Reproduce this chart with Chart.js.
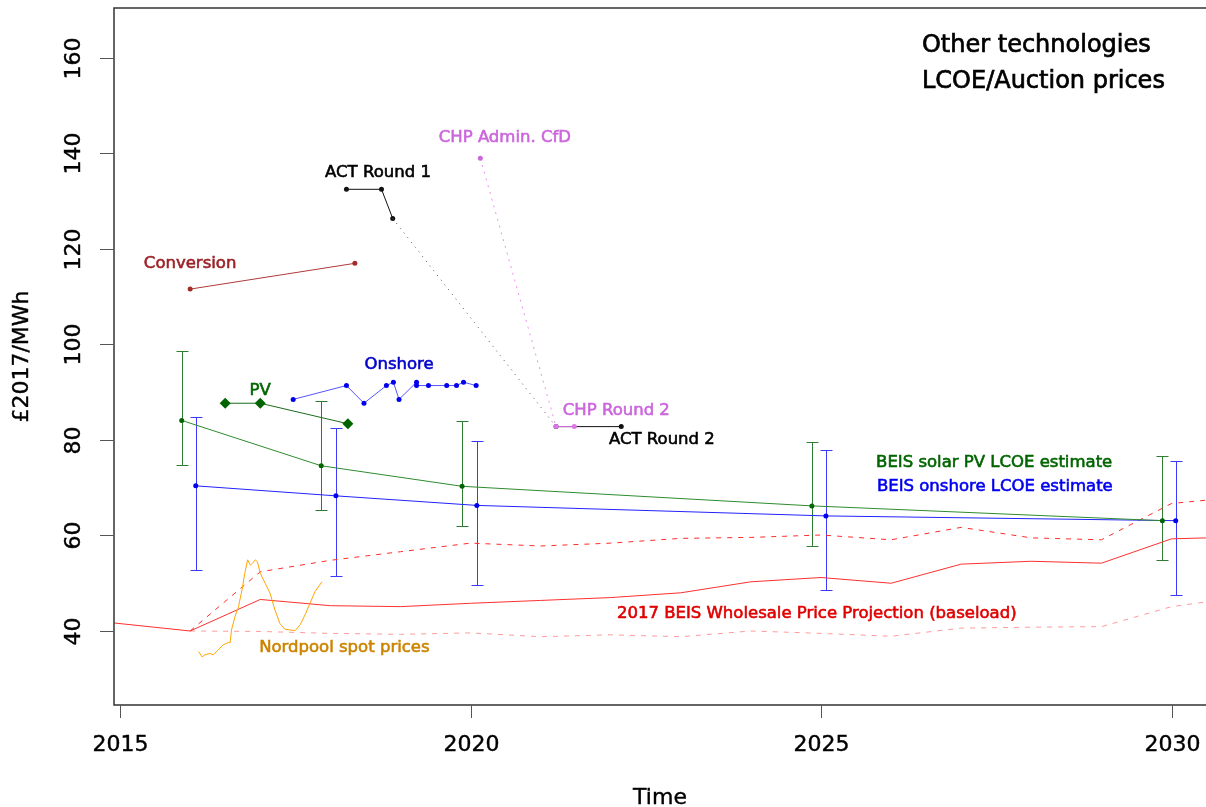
<!DOCTYPE html>
<html>
<head>
<meta charset="utf-8">
<script src="https://cdn.jsdelivr.net/npm/chart.js@4.4.0/dist/chart.umd.min.js"></script>
<style>
  body { margin: 0; background: #fff; }
  #wrap { width: 1206px; height: 807px; }
</style>
</head>
<body>
<div id="wrap"><canvas id="myChart" width="1206" height="807"></canvas></div>
<script>
// axis ticks
const xTickValues = [2015, 2020, 2025, 2030];
const yTickValues = [40, 60, 80, 100, 120, 140, 160];

// 2017 BEIS wholesale price projection (baseload), central / high / low
const wholesaleYears = [2014.9, 2016, 2017, 2018, 2019, 2020, 2021, 2022, 2023, 2024, 2025, 2026, 2027, 2028, 2029, 2030, 2030.5];
const wholesaleCentral = [41.7, 40.0, 46.6, 45.3, 45.1, 45.8, 46.4, 47.0, 48.0, 50.3, 51.2, 50.0, 54.0, 54.6, 54.2, 59.3, 59.5];
const wholesaleRangeYears = [2016, 2017, 2018, 2019, 2020, 2021, 2022, 2023, 2024, 2025, 2026, 2027, 2028, 2029, 2030, 2030.5];
const wholesaleHigh = [40.0, 52.4, 54.8, 56.6, 58.4, 57.8, 58.4, 59.4, 59.6, 60.1, 59.1, 61.7, 59.5, 59.1, 66.7, 67.4];
const wholesaleLow = [40.0, 39.9, 39.5, 39.3, 39.6, 38.8, 39.2, 38.8, 40.0, 39.5, 38.9, 40.6, 40.8, 40.9, 45.1, 46.1];

// Nordpool spot prices
const nordpoolYears = [2016.12, 2016.17, 2016.21, 2016.28, 2016.33, 2016.40, 2016.47, 2016.55, 2016.57, 2016.59,
  2016.64, 2016.69, 2016.74, 2016.78, 2016.82, 2016.86, 2016.89, 2016.93, 2016.96, 2017.00,
  2017.07, 2017.14, 2017.21, 2017.28, 2017.35, 2017.43, 2017.50, 2017.57, 2017.64, 2017.71, 2017.78, 2017.88];
const nordpoolPrices = [35.7, 34.6, 35.0, 35.3, 35.0, 36.0, 37.1, 37.6, 37.5, 40.2,
  43.0, 45.1, 48.6, 52.1, 54.9, 53.8, 54.2, 54.9, 54.5, 52.1,
  50.0, 47.9, 44.4, 41.6, 40.4, 40.2, 40.1, 41.3, 43.4, 45.8, 48.2, 50.3];

// BEIS LCOE estimates with ranges
const beisPvYears = [2015.88, 2017.87, 2019.88, 2024.87, 2029.87];
const beisPvCost = [84.1, 74.6, 70.3, 66.2, 63.1];
const beisPvLow = [74.7, 65.3, 62.0, 57.9, 54.8];
const beisPvHigh = [98.7, 88.2, 84.0, 79.6, 76.7];
const beisOnshoreYears = [2016.08, 2018.08, 2020.09, 2025.07, 2030.06];
const beisOnshoreCost = [70.4, 68.3, 66.3, 64.1, 63.1];
const beisOnshoreLow = [52.8, 51.5, 49.6, 48.5, 47.5];
const beisOnshoreHigh = [84.9, 82.6, 79.7, 77.8, 75.7];

// auction / strike prices
const conversionYears = [2016.0, 2018.35];
const conversionPrices = [111.6, 117.0];
const pvYears = [2016.5, 2017.0, 2018.25];
const pvPrices = [87.7, 87.7, 83.4];
const onshoreYears = [2017.47, 2018.23, 2018.48, 2018.80, 2018.90, 2018.98, 2019.23, 2019.23, 2019.40, 2019.66, 2019.80, 2019.90, 2020.08];
const onshorePrices = [88.5, 91.4, 87.7, 91.4, 92.1, 88.5, 92.1, 91.4, 91.4, 91.4, 91.4, 92.1, 91.4];
const actRound1Years = [2018.23, 2018.73, 2018.89];
const actRound1Prices = [132.5, 132.5, 126.4];
const actRound2Years = [2021.22, 2022.15];
const actRound2Prices = [82.8, 82.8];
const chpAdminYears = [2020.14];
const chpAdminPrices = [139.0];
const chpRound2Years = [2021.22, 2021.48];
const chpRound2Prices = [82.8, 82.8];

// text notes, anchored in data units
const notes = [
  { text: 'Conversion', x: 2016.0, y: 117.0, color: '#9b2226' },
  { text: 'PV', x: 2017.0, y: 90.3, color: '#006400' },
  { text: 'Onshore', x: 2018.98, y: 95.7, color: '#0000cc' },
  { text: 'ACT Round 1', x: 2018.68, y: 135.9, color: '#000000' },
  { text: 'CHP Admin. CfD', x: 2020.49, y: 143.2, color: '#cc66dd' },
  { text: 'CHP Round 2', x: 2022.08, y: 86.1, color: '#cc66dd' },
  { text: 'ACT Round 2', x: 2022.73, y: 80.1, color: '#000000' },
  { text: 'BEIS solar PV LCOE estimate', x: 2027.47, y: 75.2, color: '#006400' },
  { text: 'BEIS onshore LCOE estimate', x: 2027.48, y: 70.2, color: '#0000ee' },
  { text: '2017 BEIS Wholesale Price Projection (baseload)', x: 2024.94, y: 43.7, color: '#e00000' },
  { text: 'Nordpool spot prices', x: 2018.2, y: 36.5, color: '#cc8400' }
];
const titleLines = ['Other technologies', 'LCOE/Auction prices'];

function pts(xs, ys) {
  return xs.map((x, i) => ({ x: x, y: ys[i] }));
}

function series(label, data, color, extra) {
  return Object.assign({
    label: label,
    data: data,
    showLine: true,
    borderColor: color,
    backgroundColor: color,
    borderWidth: 1,
    pointRadius: 2.5,
    pointBorderWidth: 0,
    pointHoverRadius: 2.5
  }, extra || {});
}

const FONT = "'DejaVu Sans', sans-serif";

// text a little heavier, like the original output
function heavyText(ctx, text, x, y, width) {
  ctx.lineWidth = width;
  ctx.strokeStyle = ctx.fillStyle;
  ctx.strokeText(text, x, y);
  ctx.fillText(text, x, y);
}

//draws box, axes, error bars and the text notes
const rPlotStyle = {
  id: 'rPlotStyle',
  beforeDatasetsDraw(chart) {
    const ctx = chart.ctx;
    const xs = chart.scales.x, ys = chart.scales.y;
    const bars = [
      [beisPvYears, beisPvLow, beisPvHigh, '#2e7d32'],
      [beisOnshoreYears, beisOnshoreLow, beisOnshoreHigh, '#3a3aff']
    ];
    ctx.save();
    ctx.lineWidth = 1;
    bars.forEach(([years, lo, hi, color]) => {
      ctx.strokeStyle = color;
      years.forEach((yr, i) => {
        const px = Math.round(xs.getPixelForValue(yr)) + 0.5;
        const top = Math.round(ys.getPixelForValue(hi[i])) + 0.5;
        const bot = Math.round(ys.getPixelForValue(lo[i])) + 0.5;
        ctx.beginPath();
        ctx.moveTo(px, top); ctx.lineTo(px, bot);
        ctx.moveTo(px - 6, top); ctx.lineTo(px + 6, top);
        ctx.moveTo(px - 6, bot); ctx.lineTo(px + 6, bot);
        ctx.stroke();
      });
    });
    ctx.restore();
  },
  afterDraw(chart) {
    const ctx = chart.ctx;
    const area = chart.chartArea;
    const xs = chart.scales.x, ys = chart.scales.y;
    ctx.save();

    // plot box
    ctx.strokeStyle = '#333';
    ctx.lineWidth = 1.5;
    ctx.beginPath();
    ctx.moveTo(area.right + 2, area.top);
    ctx.lineTo(area.left, area.top);
    ctx.lineTo(area.left, area.bottom);
    ctx.lineTo(area.right + 2, area.bottom);
    ctx.stroke();

    // y axis ticks and rotated labels
    ctx.lineWidth = 1;
    ctx.strokeStyle = '#555';
    ctx.fillStyle = '#000';
    ctx.font = '22px ' + FONT;
    ctx.textAlign = 'center';
    ctx.textBaseline = 'middle';
    yTickValues.forEach(v => {
      const py = Math.round(ys.getPixelForValue(v)) + 0.5;
      ctx.strokeStyle = '#555';
      ctx.lineWidth = 1;
      ctx.beginPath();
      ctx.moveTo(area.left - 14, py); ctx.lineTo(area.left, py);
      ctx.stroke();
      ctx.save();
      ctx.translate(74, py);
      ctx.rotate(-Math.PI / 2);
      heavyText(ctx, String(v), 0, 0, 0.4);
      ctx.restore();
    });

    // x axis ticks and labels
    xTickValues.forEach(v => {
      const px = Math.round(xs.getPixelForValue(v)) + 0.5;
      ctx.strokeStyle = '#555';
      ctx.lineWidth = 1;
      ctx.beginPath();
      ctx.moveTo(px, area.bottom); ctx.lineTo(px, area.bottom + 13);
      ctx.stroke();
      heavyText(ctx, String(v), px, area.bottom + 40, 0.4);
    });

    // axis titles
    heavyText(ctx, 'Time', (area.left + area.right) / 2, 798, 0.4);
    ctx.save();
    ctx.translate(22, (area.top + area.bottom) / 2);
    ctx.rotate(-Math.PI / 2);
    heavyText(ctx, '£2017/MWh', 0, 0, 0.4);
    ctx.restore();

    // notes
    ctx.font = '16.5px ' + FONT;
    notes.forEach(n => {
      ctx.fillStyle = n.color;
      heavyText(ctx, n.text, xs.getPixelForValue(n.x), ys.getPixelForValue(n.y), 0.6);
    });

    // title in the top right corner
    ctx.fillStyle = '#000';
    ctx.font = '24px ' + FONT;
    ctx.textAlign = 'left';
    titleLines.forEach((line, i) => {
      heavyText(ctx, line, xs.getPixelForValue(2026.44), ys.getPixelForValue(162.5 - i * 7.5), 0.7);
    });
    ctx.restore();
  }
};

const datasets = [
  series('CHP Round 2', pts(chpRound2Years, chpRound2Prices), '#dd77e6'),
  series('CHP Admin. CfD', pts(chpAdminYears, chpAdminPrices), '#cc66dd'),
  series('CHP link', pts([chpAdminYears[0], chpRound2Years[0]], [chpAdminPrices[0], chpRound2Prices[0]]),
    '#f08cf0', { borderDash: [2, 5], pointRadius: 0 }),
  series('ACT Round 2', pts(actRound2Years, actRound2Prices), '#111111'),
  series('ACT link', pts([actRound1Years[2], actRound2Years[0]], [actRound1Prices[2], actRound2Prices[0]]),
    '#555555', { borderDash: [1, 5], pointRadius: 0 }),
  series('ACT Round 1', pts(actRound1Years, actRound1Prices), '#111111'),
  series('Conversion', pts(conversionYears, conversionPrices), '#b03a3a', { pointBackgroundColor: '#a52a2a' }),
  series('PV', pts(pvYears, pvPrices), '#1b6b1b', { pointStyle: 'rectRot', pointRadius: 5.5, pointBackgroundColor: '#006400' }),
  series('Onshore', pts(onshoreYears, onshorePrices), '#5555ff', { pointBackgroundColor: '#0000ee' }),
  series('BEIS solar PV', pts(beisPvYears, beisPvCost), '#2e8b2e', { pointBackgroundColor: '#006400' }),
  series('BEIS onshore', pts(beisOnshoreYears, beisOnshoreCost), '#2222ff', { pointBackgroundColor: '#0000ee' }),
  series('Nordpool', pts(nordpoolYears, nordpoolPrices), '#ffa500', { pointRadius: 0 }),
  series('Wholesale central', pts(wholesaleYears, wholesaleCentral), '#ff3030', { pointRadius: 0 }),
  series('Wholesale high', pts(wholesaleRangeYears, wholesaleHigh), '#ff2a2a', { pointRadius: 0, borderDash: [5, 6] }),
  series('Wholesale low', pts(wholesaleRangeYears, wholesaleLow), '#ff9a9a', { pointRadius: 0, borderDash: [5, 6] })
];

const hiddenAxis = {
  grid: { display: false },
  border: { display: false },
  ticks: { display: false }
};

const config = {
  type: 'scatter',
  data: { datasets: datasets },
  options: {
    responsive: false,
    animation: false,
    devicePixelRatio: 1,
    layout: { autoPadding: false, padding: { top: 8, left: 0, right: 0, bottom: 0 } },
    elements: { line: { tension: 0 } },
    plugins: {
      legend: { display: false },
      tooltip: { enabled: false }
    },
    scales: {
      x: Object.assign({
        type: 'linear', position: 'bottom', min: 2014.914, max: 2030.492,
        afterFit: (s) => { s.height = 102; }
      }, hiddenAxis),
      y: Object.assign({
        type: 'linear', position: 'left', min: 24.5, max: 170.47,
        afterFit: (s) => { s.width = 114; }
      }, hiddenAxis)
    }
  },
  plugins: [rPlotStyle]
};

const myChart = new Chart(document.getElementById('myChart'), config);
</script>
</body>
</html>
